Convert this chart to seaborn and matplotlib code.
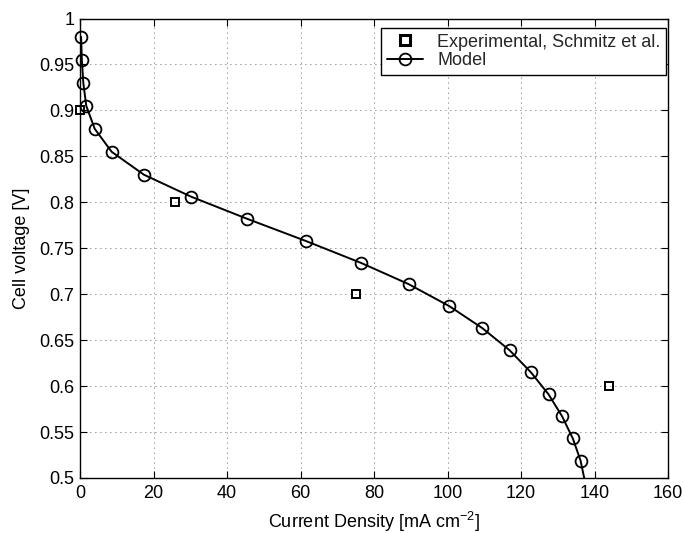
import numpy as np
import pandas as pd
import matplotlib
matplotlib.use("Agg")
import matplotlib.pyplot as plt
import seaborn as sns
from matplotlib.lines import Line2D

# ---- data ----
exp_current = [0.0, 25.9, 75.0, 143.9]
exp_voltage = [0.900, 0.800, 0.700, 0.600]

model_current = [0.3, 0.5, 0.9, 1.7, 4.0, 8.6, 17.4, 30.3, 45.5, 61.4,
                 76.5, 89.4, 100.5, 109.5, 116.9, 122.7, 127.5, 131.2, 134.1, 136.2]
model_voltage = [0.980, 0.955, 0.930, 0.905, 0.880, 0.855, 0.830, 0.806, 0.782, 0.758,
                 0.734, 0.711, 0.687, 0.663, 0.639, 0.615, 0.591, 0.567, 0.543, 0.519]
# curve continues to the bottom of the plot
curve_end_current = [137.2]
curve_end_voltage = [0.500]

x_ticks = [0, 20, 40, 60, 80, 100, 120, 140, 160]
y_ticks = [0.5, 0.55, 0.6, 0.65, 0.7, 0.75, 0.8, 0.85, 0.9, 0.95, 1.0]
y_ticklabels = ["0.5", "0.55", "0.6", "0.65", "0.7", "0.75", "0.8", "0.85", "0.9", "0.95", "1"]

sns.set_theme(style="white")
plt.rcParams['font.family'] = ['Liberation Sans', 'DejaVu Sans']
plt.rcParams['mathtext.fontset'] = 'custom'
plt.rcParams['mathtext.rm'] = 'Liberation Sans'

FS = 13

fig = plt.figure(figsize=(6.84, 5.33), dpi=100)
ax = fig.add_axes([80 / 684, 1 - 478 / 533, (668 - 80) / 684, (478 - 18.5) / 533])

curve = pd.DataFrame({"x": model_current + curve_end_current,
                      "y": model_voltage + curve_end_voltage})
model = pd.DataFrame({"x": model_current, "y": model_voltage})
exp = pd.DataFrame({"x": exp_current, "y": exp_voltage})

sns.lineplot(data=curve, x="x", y="y", ax=ax, color="black", linewidth=1.4,
             sort=False, estimator=None, legend=False, zorder=3)
ax.plot(model["x"], model["y"], linestyle="none", marker="o", markersize=8.5,
        markerfacecolor="none", markeredgecolor="black", markeredgewidth=1.3,
        zorder=4, clip_on=False)
ax.plot(exp["x"], exp["y"], linestyle="none", marker="s", markersize=6,
        markerfacecolor="none", markeredgecolor="black", markeredgewidth=1.4,
        zorder=4, clip_on=False)

ax.set_xlim(0, 160)
ax.set_ylim(0.5, 1.0)
ax.set_xticks(x_ticks)
ax.set_xticklabels([str(t) for t in x_ticks])
ax.set_yticks(y_ticks)
ax.set_yticklabels(y_ticklabels)
ax.tick_params(direction="in", length=5, width=0.8, top=True, right=True,
               bottom=True, left=True, labelsize=FS, colors="black")
ax.tick_params(axis="x", pad=5)
ax.tick_params(axis="y", pad=4)
ax.grid(True, color="black", linestyle=(0, (1, 5)), linewidth=0.6, alpha=0.8)
for s in ax.spines.values():
    s.set_color("black")
    s.set_linewidth(1.0)

ax.set_xlabel("Current Density [mA cm$^{-2}$]", fontsize=FS, color="black", labelpad=6)
ax.set_ylabel("Cell voltage [V]", fontsize=FS, color="black", labelpad=7)

handles = [
    Line2D([], [], linestyle="none", marker="s", markersize=7, markerfacecolor="none",
           markeredgecolor="black", markeredgewidth=2.2),
    Line2D([], [], color="black", linewidth=1.4, marker="o", markersize=8.5,
           markerfacecolor="none", markeredgecolor="black", markeredgewidth=1.3),
]
leg = ax.legend(handles, ["Experimental, Schmitz et al.", "Model"], loc="upper right",
                bbox_to_anchor=(0.9965, 0.979), fontsize=FS, frameon=True, fancybox=False,
                edgecolor="black", framealpha=1, borderpad=0.3, labelspacing=0.1,
                handlelength=2.0, handletextpad=0.8, borderaxespad=0.0)
leg.get_frame().set_linewidth(1.0)

fig.savefig("out.png", dpi=100)
